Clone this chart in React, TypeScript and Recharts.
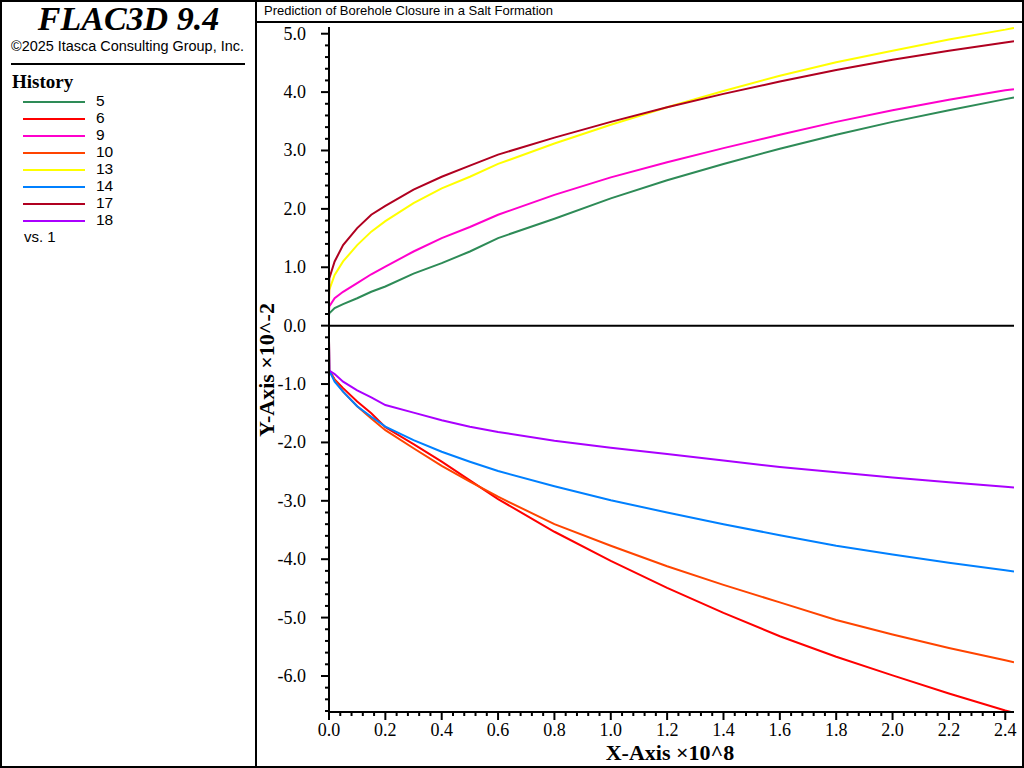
import React from 'react';
import { Line, LineChart, ReferenceLine, XAxis, YAxis } from 'recharts';

const xValues = [0, 0.001, 0.02, 0.05, 0.1, 0.15, 0.2, 0.3, 0.4, 0.5, 0.6, 0.8, 1.0, 1.2, 1.4, 1.6, 1.8, 2.0, 2.2, 2.4, 2.431];

const hist5 = [0.18, 0.21, 0.3, 0.37, 0.47, 0.58, 0.67, 0.89, 1.07, 1.27, 1.5, 1.83, 2.18, 2.49, 2.77, 3.03, 3.27, 3.49, 3.69, 3.88, 3.91];
const hist6 = [-0.25, -0.77, -0.92, -1.07, -1.3, -1.5, -1.74, -2.03, -2.33, -2.65, -2.97, -3.53, -4.03, -4.49, -4.92, -5.32, -5.67, -5.99, -6.3, -6.59, -6.63];
const hist9 = [0.25, 0.33, 0.47, 0.58, 0.73, 0.88, 1.01, 1.27, 1.5, 1.69, 1.9, 2.24, 2.54, 2.8, 3.04, 3.27, 3.49, 3.69, 3.87, 4.03, 4.05];
const hist10 = [-0.25, -0.77, -0.93, -1.13, -1.38, -1.59, -1.79, -2.1, -2.4, -2.67, -2.93, -3.4, -3.77, -4.12, -4.44, -4.74, -5.04, -5.29, -5.52, -5.73, -5.765];
const hist13 = [0.33, 0.61, 0.87, 1.1, 1.38, 1.61, 1.79, 2.1, 2.35, 2.55, 2.77, 3.12, 3.44, 3.74, 4.02, 4.28, 4.51, 4.71, 4.9, 5.07, 5.1];
const hist14 = [-0.25, -0.77, -0.96, -1.13, -1.38, -1.56, -1.73, -1.96, -2.16, -2.33, -2.49, -2.75, -2.99, -3.2, -3.4, -3.59, -3.77, -3.92, -4.06, -4.19, -4.21];
const hist17 = [0.45, 0.81, 1.1, 1.38, 1.67, 1.9, 2.05, 2.33, 2.55, 2.74, 2.93, 3.22, 3.49, 3.74, 3.97, 4.18, 4.38, 4.555, 4.71, 4.85, 4.87];
const hist18 = [-0.28, -0.77, -0.83, -0.96, -1.11, -1.23, -1.36, -1.49, -1.62, -1.73, -1.82, -1.97, -2.09, -2.2, -2.31, -2.42, -2.51, -2.6, -2.68, -2.76, -2.77];

const seriesNames = ['5', '6', '9', '10', '13', '14', '17', '18'];
const seriesValues = [hist5, hist6, hist9, hist10, hist13, hist14, hist17, hist18];
const seriesColors = ['#2e8b57', '#ff0000', '#ff00cc', '#ff4400', '#ffff00', '#0080ff', '#b00020', '#aa00ff'];

const xTicks: number[] = [];
for (let i = 0; i <= 60; i++) xTicks.push(i * 0.04);
const yTicks: number[] = [];
for (let i = -33; i <= 25; i++) yTicks.push(i * 0.2);

const chartData = xValues.map((x, i) => {
  const row: Record<string, number> = { x };
  seriesNames.forEach((name, s) => {
    row[name] = seriesValues[s][i];
  });
  return row;
});

const serif = '"Liberation Serif", serif';
const sans = '"Liberation Sans", sans-serif';

const XTick = ({ x, y, payload }: any) => {
  const major = Math.abs(payload.value / 0.2 - Math.round(payload.value / 0.2)) < 1e-6;
  return (
    <g>
      <line x1={x} x2={x} y1={y} y2={y + (major ? 8 : 4)} stroke='#000' strokeWidth={2} />
      {major && (
        <text x={x} y={y + 24} textAnchor='middle' fontFamily={serif} fontSize={18} fill='#000'>
          {payload.value.toFixed(1)}
        </text>
      )}
    </g>
  );
};

const YTick = ({ x, y, payload }: any) => {
  const major = Math.abs(payload.value - Math.round(payload.value)) < 1e-6;
  return (
    <g>
      <line x1={x} x2={x - (major ? 8 : 4)} y1={y} y2={y} stroke='#000' strokeWidth={2} />
      {major && (
        <text x={x - 23} y={y + 6} textAnchor='end' fontFamily={serif} fontSize={18} fill='#000'>
          {Math.round(payload.value).toFixed(1)}
        </text>
      )}
    </g>
  );
};

const rule = (left: number, top: number, width: number, height: number, color = '#000') => (
  <div style={{ position: 'absolute', left, top, width, height, background: color }} />
);

const label = (left: number, top: number, text: string, style: React.CSSProperties) => (
  <div style={{ position: 'absolute', left, top, whiteSpace: 'nowrap', color: '#000', ...style }}>{text}</div>
);

export default function App() {
  return (
    <div style={{ position: 'absolute', left: 0, top: 0, width: 1024, height: 768, background: '#fff', overflow: 'hidden' }}>
      <div style={{ position: 'absolute', left: 0, top: 0 }}>
        <LineChart width={1024} height={768} data={chartData} margin={{ top: 27, right: 10, bottom: 0, left: 269 }}>
          <XAxis
            dataKey='x'
            type='number'
            domain={[0, 2.431]}
            allowDataOverflow
            ticks={xTicks}
            interval={0}
            height={56}
            tickSize={0}
            tickMargin={0}
            tick={<XTick />}
            axisLine={{ stroke: '#000', strokeWidth: 2 }}
          />
          <YAxis
            type='number'
            domain={[-6.617, 5.115]}
            allowDataOverflow
            ticks={yTicks}
            interval={0}
            width={60}
            tickSize={0}
            tickMargin={0}
            tick={<YTick />}
            axisLine={{ stroke: '#000', strokeWidth: 2 }}
          />
          <ReferenceLine y={0} stroke='#000' strokeWidth={2} />
          {seriesNames.map((name, s) => (
            <Line
              key={name}
              dataKey={name}
              type='linear'
              stroke={seriesColors[s]}
              strokeWidth={2}
              dot={false}
              isAnimationActive={false}
            />
          ))}
        </LineChart>
      </div>

      {/* frame */}
      <div style={{ position: 'absolute', left: 0, top: 0, width: 1020, height: 764, border: '2px solid #000' }} />
      {rule(255, 0, 2, 768)}
      {rule(256, 21, 768, 2)}

      {label(0, 1, 'FLAC3D 9.4', { width: 257, textAlign: 'center', fontFamily: serif, fontWeight: 'bold', fontStyle: 'italic', fontSize: 34, lineHeight: '36px' })}
      {label(11, 37, '©2025 Itasca Consulting Group, Inc.', { fontFamily: sans, fontSize: 14.45, lineHeight: '18px' })}
      {rule(11, 63, 234, 2)}
      {label(12, 71, 'History', { fontFamily: serif, fontWeight: 'bold', fontSize: 19, lineHeight: '22px' })}

      {seriesNames.map((name, s) => (
        <React.Fragment key={name}>
          {rule(23, 101 + s * 17, 62, 2, seriesColors[s])}
          {label(96, 92 + s * 17, name, { fontFamily: sans, fontSize: 15.5, lineHeight: '18px' })}
        </React.Fragment>
      ))}
      {label(24, 228, 'vs. 1', { fontFamily: sans, fontSize: 15, lineHeight: '18px' })}

      {label(264, 3, 'Prediction of Borehole Closure in a Salt Formation', { fontFamily: sans, fontSize: 13, lineHeight: '15px' })}

      {label(510, 741, 'X-Axis ×10^8', { width: 320, textAlign: 'center', fontFamily: serif, fontWeight: 'bold', fontSize: 22, lineHeight: '24px' })}
      <div
        style={{
          position: 'absolute',
          left: 267,
          top: 370,
          transform: 'translate(-50%, -50%) rotate(-90deg)',
          whiteSpace: 'nowrap',
          fontFamily: serif,
          fontWeight: 'bold',
          fontSize: 22,
          color: '#000',
        }}
      >
        Y-Axis ×10^-2
      </div>
    </div>
  );
}
